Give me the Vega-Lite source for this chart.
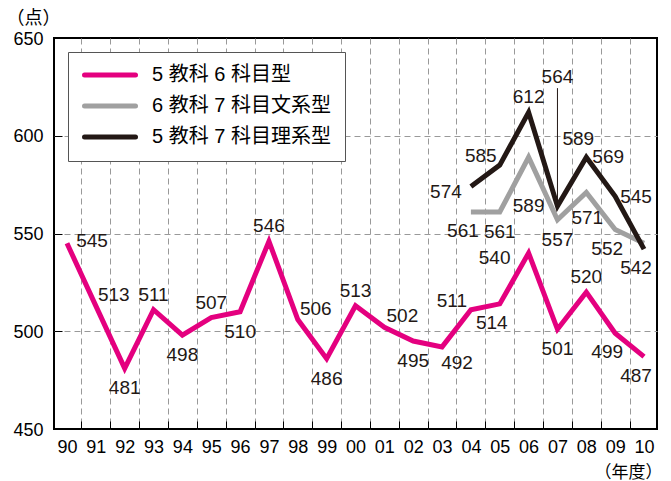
{
  "$schema": "https://vega.github.io/schema/vega-lite/v6.json",
  "width": 603,
  "height": 391,
  "autosize": {"type": "none"},
  "padding": {"left": 54, "top": 38, "right": 14, "bottom": 52},
  "background": "white",
  "config": {
    "font": "Liberation Sans",
    "view": {"stroke": "#000000", "strokeWidth": 2},
    "text": {"font": "Liberation Sans", "fontSize": 19, "color": "#231815", "align": "center", "baseline": "middle"}
  },
  "data": {
    "values": [
      {"series": "5 教科 6 科目型", "code": "m", "year": 1990, "value": 545},
      {"series": "5 教科 6 科目型", "code": "m", "year": 1991, "value": 513},
      {"series": "5 教科 6 科目型", "code": "m", "year": 1992, "value": 481},
      {"series": "5 教科 6 科目型", "code": "m", "year": 1993, "value": 511},
      {"series": "5 教科 6 科目型", "code": "m", "year": 1994, "value": 498},
      {"series": "5 教科 6 科目型", "code": "m", "year": 1995, "value": 507},
      {"series": "5 教科 6 科目型", "code": "m", "year": 1996, "value": 510},
      {"series": "5 教科 6 科目型", "code": "m", "year": 1997, "value": 546},
      {"series": "5 教科 6 科目型", "code": "m", "year": 1998, "value": 506},
      {"series": "5 教科 6 科目型", "code": "m", "year": 1999, "value": 486},
      {"series": "5 教科 6 科目型", "code": "m", "year": 2000, "value": 513},
      {"series": "5 教科 6 科目型", "code": "m", "year": 2001, "value": 502},
      {"series": "5 教科 6 科目型", "code": "m", "year": 2002, "value": 495},
      {"series": "5 教科 6 科目型", "code": "m", "year": 2003, "value": 492},
      {"series": "5 教科 6 科目型", "code": "m", "year": 2004, "value": 511},
      {"series": "5 教科 6 科目型", "code": "m", "year": 2005, "value": 514},
      {"series": "5 教科 6 科目型", "code": "m", "year": 2006, "value": 540},
      {"series": "5 教科 6 科目型", "code": "m", "year": 2007, "value": 501},
      {"series": "5 教科 6 科目型", "code": "m", "year": 2008, "value": 520},
      {"series": "5 教科 6 科目型", "code": "m", "year": 2009, "value": 499},
      {"series": "5 教科 6 科目型", "code": "m", "year": 2010, "value": 487},
      {"series": "6 教科 7 科目文系型", "code": "g", "year": 2004, "value": 561},
      {"series": "6 教科 7 科目文系型", "code": "g", "year": 2005, "value": 561},
      {"series": "6 教科 7 科目文系型", "code": "g", "year": 2006, "value": 589},
      {"series": "6 教科 7 科目文系型", "code": "g", "year": 2007, "value": 557},
      {"series": "6 教科 7 科目文系型", "code": "g", "year": 2008, "value": 571},
      {"series": "6 教科 7 科目文系型", "code": "g", "year": 2009, "value": 552},
      {"series": "6 教科 7 科目文系型", "code": "g", "year": 2010, "value": 545},
      {"series": "5 教科 7 科目理系型", "code": "b", "year": 2004, "value": 574},
      {"series": "5 教科 7 科目理系型", "code": "b", "year": 2005, "value": 585},
      {"series": "5 教科 7 科目理系型", "code": "b", "year": 2006, "value": 612},
      {"series": "5 教科 7 科目理系型", "code": "b", "year": 2007, "value": 564},
      {"series": "5 教科 7 科目理系型", "code": "b", "year": 2008, "value": 589},
      {"series": "5 教科 7 科目理系型", "code": "b", "year": 2009, "value": 569},
      {"series": "5 教科 7 科目理系型", "code": "b", "year": 2010, "value": 542}
    ]
  },
  "encoding": {
    "x": {
      "field": "year",
      "type": "quantitative",
      "scale": {"domain": [1989.55, 2010.45], "nice": false, "zero": false},
      "axis": {
        "values": [1990, 1990.5, 1991, 1991.5, 1992, 1992.5, 1993, 1993.5, 1994, 1994.5, 1995, 1995.5, 1996, 1996.5, 1997, 1997.5, 1998, 1998.5, 1999, 1999.5, 2000, 2000.5, 2001, 2001.5, 2002, 2002.5, 2003, 2003.5, 2004, 2004.5, 2005, 2005.5, 2006, 2006.5, 2007, 2007.5, 2008, 2008.5, 2009, 2009.5, 2010],
        "labelExpr": "datum.value % 1 === 0 ? slice(toString(datum.value), 2) : ''",
        "labelFont": "Liberation Sans",
        "labelFontSize": 18,
        "labelColor": "#000000",
        "labelFlush": false,
        "labelOverlap": false,
        "labelPadding": 17,
        "domain": false,
        "tickSize": -8,
        "tickColor": "#000000",
        "tickOpacity": {"condition": {"test": "datum.value % 1 === 0", "value": 0}, "value": 1},
        "grid": true,
        "gridColor": "#999999",
        "gridDash": [6, 4],
        "gridOpacity": {"condition": {"test": "datum.value % 1 === 0", "value": 0}, "value": 1},
        "title": "（年度）",
        "titleFont": "Noto Sans CJK JP",
        "titleFontSize": 17,
        "titleFontWeight": "normal",
        "titleColor": "#000000",
        "titleX": 574,
        "titleY": 43,
        "titleAlign": "center",
        "titleBaseline": "middle"
      }
    },
    "y": {
      "field": "value",
      "type": "quantitative",
      "scale": {"domain": [450, 650], "nice": false, "zero": false},
      "axis": {
        "values": [450, 500, 550, 600, 650],
        "labelFont": "Liberation Sans",
        "labelFontSize": 18,
        "labelColor": "#000000",
        "labelPadding": 19,
        "labelOffset": 1,
        "domain": false,
        "tickSize": -8,
        "tickColor": "#000000",
        "grid": true,
        "gridColor": "#999999",
        "gridDash": [6, 4],
        "gridOpacity": {"condition": {"test": "datum.value === 450 || datum.value === 650", "value": 0}, "value": 1},
        "title": "（点）",
        "titleFont": "Noto Sans CJK JP",
        "titleFontSize": 18,
        "titleFontWeight": "normal",
        "titleColor": "#000000",
        "titleAngle": 0,
        "titleX": -21,
        "titleY": -20,
        "titleAlign": "center",
        "titleBaseline": "middle"
      }
    }
  },
  "layer": [
    {
      "mark": {"type": "line", "strokeWidth": 5, "strokeJoin": "miter"},
      "encoding": {
        "color": {
          "field": "series",
          "type": "nominal",
          "scale": {
            "domain": ["5 教科 6 科目型", "6 教科 7 科目文系型", "5 教科 7 科目理系型"],
            "range": ["#e4007f", "#a0a0a0", "#231815"]
          },
          "legend": {
            "title": null,
            "orient": "none",
            "legendX": 14,
            "legendY": 14,
            "direction": "vertical",
            "symbolType": "stroke",
            "symbolSize": 2601,
            "symbolStrokeWidth": 5,
            "labelFont": "Liberation Sans, Noto Sans CJK JP",
            "labelFontSize": 20,
            "labelColor": "#000000",
            "labelOffset": 14,
            "labelLimit": 0,
            "padding": 14,
            "rowPadding": 11,
            "clipHeight": 18,
            "strokeColor": "#555555",
            "fillColor": "#ffffff",
            "encode": {"symbols": {"update": {"strokeCap": {"value": "round"}}}}
          }
        }
      }
    },
    {
      "transform": [{"filter": "datum.code === 'b' && datum.year === 2007"}],
      "mark": {"type": "rule", "color": "#231815", "strokeWidth": 1, "y2Offset": -118},
      "encoding": {"y2": {"field": "value"}}
    },
    {
      "transform": [{"filter": "indexof(['m1993','m1995','m1997','m2000','m2008','b2006'], datum.code + datum.year) >= 0"}],
      "mark": {"type": "text", "dx": 0, "dy": -15},
      "encoding": {"text": {"field": "value"}}
    },
    {
      "transform": [{"filter": "indexof(['m1992','m1994','m1996','m1999','m2002','m2007','g2005','g2007'], datum.code + datum.year) >= 0"}],
      "mark": {"type": "text", "dx": 0, "dy": 20},
      "encoding": {"text": {"field": "value"}}
    },
    {
      "transform": [{"filter": "indexof(['m2005','m2009','m2010','b2010','g2004','g2009'], datum.code + datum.year) >= 0"}],
      "mark": {"type": "text", "dx": -8, "dy": 19},
      "encoding": {"text": {"field": "value"}}
    },
    {
      "transform": [{"filter": "indexof(['m1991','m1998','m2001'], datum.code + datum.year) >= 0"}],
      "mark": {"type": "text", "dx": 18, "dy": -11},
      "encoding": {"text": {"field": "value"}}
    },
    {
      "transform": [{"filter": "indexof(['m2004','b2005'], datum.code + datum.year) >= 0"}],
      "mark": {"type": "text", "dx": -19, "dy": -9},
      "encoding": {"text": {"field": "value"}}
    },
    {
      "transform": [{"filter": "datum.code + datum.year === 'm1990'"}],
      "mark": {"type": "text", "dx": 25, "dy": -2},
      "encoding": {"text": {"field": "value"}}
    },
    {
      "transform": [{"filter": "datum.code + datum.year === 'm2003'"}],
      "mark": {"type": "text", "dx": 15, "dy": 16},
      "encoding": {"text": {"field": "value"}}
    },
    {
      "transform": [{"filter": "datum.code + datum.year === 'm2006'"}],
      "mark": {"type": "text", "dx": -34, "dy": 5},
      "encoding": {"text": {"field": "value"}}
    },
    {
      "transform": [{"filter": "datum.code + datum.year === 'b2004'"}],
      "mark": {"type": "text", "dx": -25, "dy": 5},
      "encoding": {"text": {"field": "value"}}
    },
    {
      "transform": [{"filter": "datum.code + datum.year === 'b2007'"}],
      "mark": {"type": "text", "dx": 0, "dy": -129},
      "encoding": {"text": {"field": "value"}}
    },
    {
      "transform": [{"filter": "datum.code + datum.year === 'b2008'"}],
      "mark": {"type": "text", "dx": -8, "dy": -18},
      "encoding": {"text": {"field": "value"}}
    },
    {
      "transform": [{"filter": "datum.code + datum.year === 'b2009'"}],
      "mark": {"type": "text", "dx": -7, "dy": -39},
      "encoding": {"text": {"field": "value"}}
    },
    {
      "transform": [{"filter": "datum.code + datum.year === 'g2006'"}],
      "mark": {"type": "text", "dx": 0, "dy": 49},
      "encoding": {"text": {"field": "value"}}
    },
    {
      "transform": [{"filter": "datum.code + datum.year === 'g2008'"}],
      "mark": {"type": "text", "dx": 1, "dy": 26},
      "encoding": {"text": {"field": "value"}}
    },
    {
      "transform": [{"filter": "datum.code + datum.year === 'g2010'"}],
      "mark": {"type": "text", "dx": -8, "dy": -46},
      "encoding": {"text": {"field": "value"}}
    }
  ]
}
